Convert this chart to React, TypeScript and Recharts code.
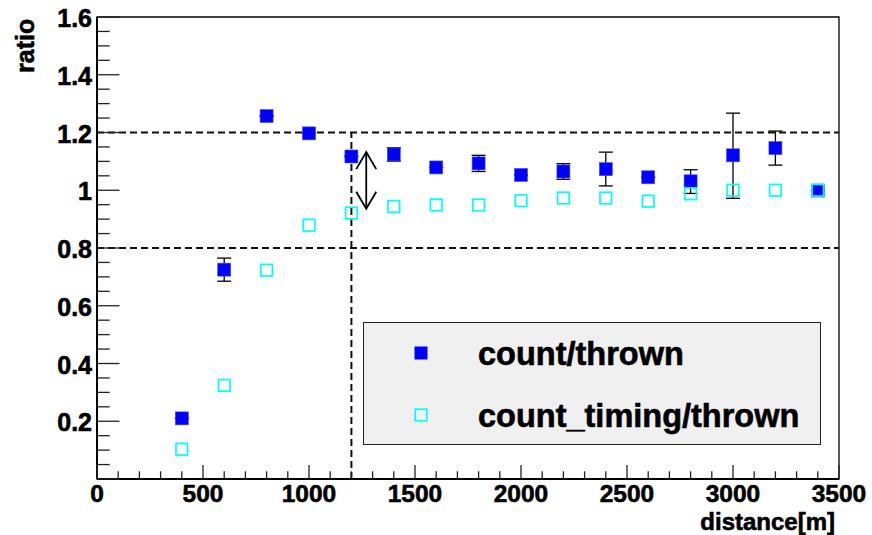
import React from 'react';
import {
  ComposedChart,
  Scatter,
  XAxis,
  YAxis,
  ErrorBar,
  ReferenceLine,
  ReferenceArea,
  Legend,
} from 'recharts';

const distances = [400, 600, 800, 1000, 1200, 1400, 1600, 1800, 2000, 2200, 2400, 2600, 2800, 3000, 3200, 3400];
const countThrown = [0.21, 0.725, 1.257, 1.197, 1.117, 1.124, 1.079, 1.093, 1.053, 1.065, 1.073, 1.045, 1.031, 1.121, 1.146, 0.999];
const countErrors: [number, number][] = [
  [0, 0], [0.04, 0.04], [0, 0], [0, 0], [0, 0], [0.023, 0.023], [0, 0], [0.028, 0.028],
  [0, 0], [0.027, 0.027], [0.058, 0.059], [0, 0], [0.042, 0.04], [0.149, 0.146], [0.059, 0.059], [0, 0],
];
const countTimingThrown = [0.103, 0.324, 0.723, 0.879, 0.921, 0.944, 0.949, 0.949, 0.964, 0.973, 0.973, 0.962, 0.988, 1.0, 1.0, 1.0];

const xMajorTicks = [0, 500, 1000, 1500, 2000, 2500, 3000, 3500];
const yMajorTicks = [0.2, 0.4, 0.6, 0.8, 1, 1.2, 1.4, 1.6];
const yTickLabels = ['0.2', '0.4', '0.6', '0.8', '1', '1.2', '1.4', '1.6'];

// minor ticks: 100 m and 0.05 steps
const xTicks: number[] = [];
for (let i = 0; i <= 35; i++) xTicks.push(i * 100);
const yTicks: number[] = [];
for (let i = 0; i <= 32; i++) yTicks.push(Math.round(i * 5) / 100);

const cutLines = [0.8, 1.2];
const cutDistance = 1200;
const arrow = { x: 1270, from: 0.936, to: 1.132 };

const blueData = distances.map((d, i) => ({ x: d, y: countThrown[i], err: countErrors[i] }));
const cyanData = distances.map((d, i) => ({ x: d, y: countTimingThrown[i] }));

const FONT = '"Liberation Sans", Arial, Helvetica, sans-serif';

const XTick = ({ x, y, payload }: any) => {
  const v = Math.round(payload.value);
  const major = v % 500 === 0;
  return (
    <g>
      <line x1={x} x2={x} y1={y} y2={y - (major ? 14 : 7.7)} stroke="#222" strokeWidth={1.3} />
      {major && (
        <text
          x={x}
          y={y + 23}
          textAnchor="middle"
          fontFamily={FONT}
          fontWeight="bold"
          fontSize={24.5}
          fill="#000"
          stroke="#000"
          strokeWidth={0.6}
        >
          {xMajorTicks.includes(v) ? String(v) : ''}
        </text>
      )}
    </g>
  );
};

const YTick = ({ x, y, payload }: any) => {
  const k = Math.round(payload.value * 100);
  const major = k % 20 === 0;
  const idx = yMajorTicks.findIndex((t) => Math.round(t * 100) === k);
  return (
    <g>
      <line x1={x} x2={x + (major ? 22.5 : 12.7)} y1={y} y2={y} stroke="#222" strokeWidth={1.3} />
      {major && idx >= 0 && (
        <text
          x={x - 5}
          y={y + 10}
          textAnchor="end"
          fontFamily={FONT}
          fontWeight="bold"
          fontSize={25}
          fill="#000"
          stroke="#000"
          strokeWidth={0.6}
        >
          {yTickLabels[idx]}
        </text>
      )}
    </g>
  );
};

const FilledSquare = ({ cx, cy }: any) => (
  <rect x={cx - 6.5} y={cy - 6.5} width={13} height={13} fill="#0000ff" stroke="#4a4aff" strokeWidth={0.6} />
);

const OpenSquare = ({ cx, cy }: any) => (
  <rect x={cx - 5.8} y={cy - 5.8} width={11.6} height={11.6} fill="none" stroke="#00ffff" strokeWidth={1.7} />
);

const DoubleArrow = ({ x1, y1, x2, y2 }: any) => {
  const top = Math.min(y1, y2);
  const bot = Math.max(y1, y2);
  const x = x1;
  return (
    <g stroke="#000" strokeWidth={1.8} fill="none">
      <line x1={x} x2={x} y1={top} y2={bot} />
      <polyline points={`${x - 10},${top + 17} ${x},${top} ${x + 10},${top + 17}`} />
      <polyline points={`${x - 10},${bot - 17} ${x},${bot} ${x + 10},${bot - 17}`} />
    </g>
  );
};

const LegendBox = () => (
  <div
    style={{
      width: 458,
      height: 123,
      background: '#f0f0f0',
      border: '1.5px solid #222',
      boxSizing: 'border-box',
      fontFamily: FONT,
      fontWeight: 'bold',
      fontSize: 32.5,
      WebkitTextStroke: '0.6px #000',
      position: 'relative',
      whiteSpace: 'nowrap',
    }}
  >
    <svg width={60} height={122} style={{ position: 'absolute', left: 28, top: 0 }}>
      <rect x={22.5} y={23.5} width={13} height={13} fill="#0000ff" />
      <rect x={23.2} y={86.2} width={11.6} height={11.6} fill="none" stroke="#00ffff" strokeWidth={1.7} />
    </svg>
    <div style={{ position: 'absolute', left: 114, top: 12, lineHeight: '38px' }}>count/thrown</div>
    <div style={{ position: 'absolute', left: 114, top: 74, lineHeight: '38px' }}>count_timing/thrown</div>
  </div>
);

export default function App() {
  return (
    <div style={{ position: 'absolute', left: 0, top: 0, width: 872, height: 535, background: '#fff' }}>
      <ComposedChart width={872} height={535} margin={{ top: 17, right: 33, bottom: 0, left: 0 }}>
        <XAxis
          type="number"
          dataKey="x"
          domain={[0, 3500]}
          ticks={xTicks}
          interval={0}
          allowDataOverflow
          height={56}
          tickSize={0}
          tickMargin={0}
          tickLine={false}
          tick={<XTick />}
          axisLine={{ stroke: '#000', strokeWidth: 2 }}
        />
        <YAxis
          type="number"
          dataKey="y"
          domain={[0, 1.6]}
          ticks={yTicks}
          interval={0}
          allowDataOverflow
          width={97}
          tickSize={0}
          tickMargin={0}
          tickLine={false}
          tick={<YTick />}
          axisLine={{ stroke: '#000', strokeWidth: 2 }}
        />
        <ReferenceArea x1={0} x2={3500} y1={0} y2={1.6} fill="none" stroke="#000" strokeWidth={1.3} />
        <Scatter data={blueData} dataKey="y" shape={<FilledSquare />} isAnimationActive={false}>
          <ErrorBar dataKey="err" direction="y" width={7} stroke="#000" strokeWidth={1.3} />
        </Scatter>
        <Scatter data={cyanData} dataKey="y" shape={<OpenSquare />} isAnimationActive={false} />
        {cutLines.map((c) => (
          <ReferenceLine
            key={c}
            segment={[{ x: 0, y: c }, { x: 3500, y: c }]}
            stroke="#111"
            strokeWidth={2}
            strokeDasharray="7 4"
          />
        ))}
        <ReferenceLine
          segment={[{ x: cutDistance, y: 0 }, { x: cutDistance, y: 1.2 }]}
          stroke="#111"
          strokeWidth={2}
          strokeDasharray="7 4"
        />
        <ReferenceLine
          segment={[{ x: arrow.x, y: arrow.from }, { x: arrow.x, y: arrow.to }]}
          shape={<DoubleArrow />}
        />
        <Legend
          layout="horizontal"
          verticalAlign="middle"
          align="center"
          content={<LegendBox />}
          wrapperStyle={{ position: 'absolute', left: 363, top: 322, width: 458, height: 123 }}
        />
      </ComposedChart>
      <div
        style={{
          position: 'absolute',
          left: 12,
          top: 17,
          width: 26,
          height: 56,
          fontFamily: FONT,
          fontWeight: 'bold',
          fontSize: 25,
          WebkitTextStroke: '0.6px #000',
          writingMode: 'vertical-rl',
          transform: 'rotate(180deg)',
          textAlign: 'left',
          lineHeight: '26px',
        }}
      >
        ratio
      </div>
      <div
        style={{
          position: 'absolute',
          right: 37,
          top: 510,
          fontFamily: FONT,
          fontWeight: 'bold',
          fontSize: 24,
          WebkitTextStroke: '0.6px #000',
          lineHeight: '24px',
        }}
      >
        distance[m]
      </div>
    </div>
  );
}
